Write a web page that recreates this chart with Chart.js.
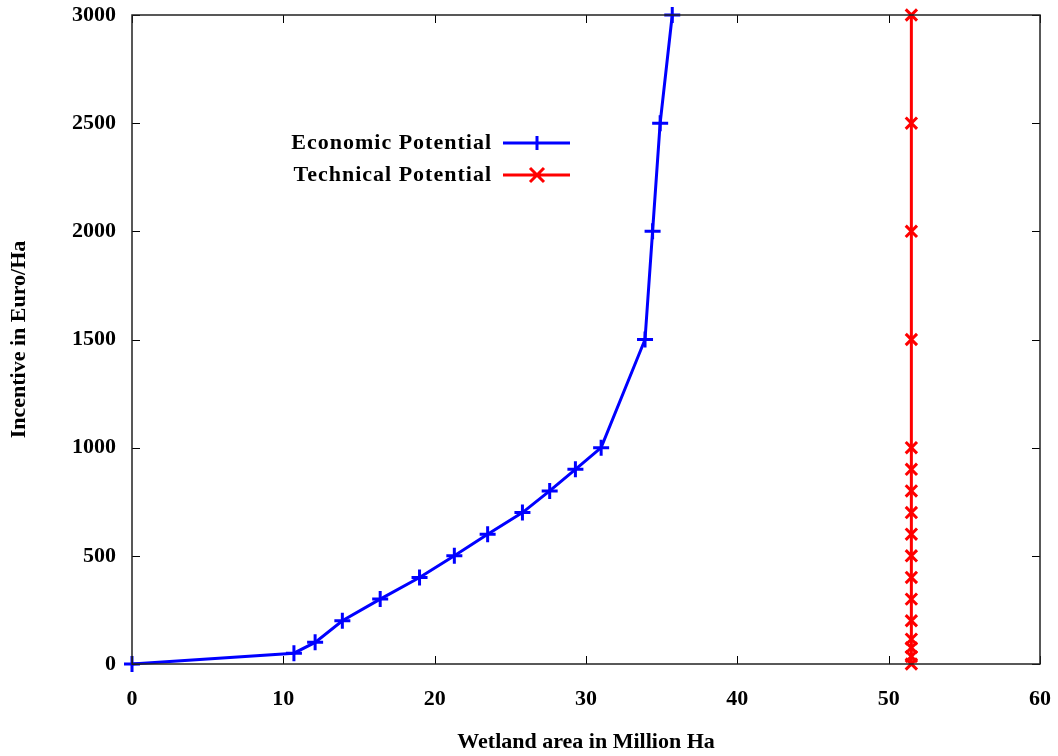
<!DOCTYPE html>
<html>
<head>
<meta charset="utf-8">
<script src="https://cdn.jsdelivr.net/npm/chart.js@4"></script>
<style>
  html, body { margin: 0; padding: 0; background: #fff; }
  #wrap { width: 1058px; height: 756px; }
</style>
</head>
<body>
<div id="wrap"><canvas id="myChart" width="1058" height="756"></canvas></div>
<script>
// values
const econArea = [0, 10.7, 12.1, 13.9, 16.4, 19.0, 21.3, 23.5, 25.8, 27.6, 29.3, 31.0, 33.9, 34.4, 34.9, 35.7];
const econIncentive = [0, 50, 100, 200, 300, 400, 500, 600, 700, 800, 900, 1000, 1500, 2000, 2500, 3000];
const techArea = 51.5;
const techIncentive = [0, 35, 75, 115, 200, 300, 400, 500, 600, 700, 800, 900, 1000, 1500, 2000, 2500, 3000];
const xTicks = [0, 10, 20, 30, 40, 50, 60];
const yTicks = [0, 500, 1000, 1500, 2000, 2500, 3000];
const seriesNames = ['Economic Potential', 'Technical Potential'];

const font = { family: '"Liberation Serif", "Times New Roman", serif', size: 22, weight: 'bold' };

// gnuplot-like frame, inward ticks and in-plot legend
const frame = {
    id: 'frame',
    afterDraw(chart) {
        const c = chart.ctx, a = chart.chartArea;
        const xs = chart.scales.x, ys = chart.scales.y;
        c.save();
        c.strokeStyle = '#000';
        c.lineWidth = 1;
        c.beginPath();
        xTicks.forEach(v => {
            const px = Math.round(xs.getPixelForValue(v)) + 0.5;
            c.moveTo(px, a.bottom); c.lineTo(px, a.bottom - 8);
            c.moveTo(px, a.top); c.lineTo(px, a.top + 8);
        });
        yTicks.forEach(v => {
            const py = Math.round(ys.getPixelForValue(v)) + 0.5;
            c.moveTo(a.left, py); c.lineTo(a.left + 8, py);
            c.moveTo(a.right, py); c.lineTo(a.right - 8, py);
        });
        c.stroke();
        c.lineWidth = 1.5;
        c.strokeStyle = '#222';
        c.strokeRect(a.left, a.top, a.right - a.left, a.bottom - a.top);

        // legend
        c.font = 'bold 22px "Liberation Serif", "Times New Roman", serif';
        c.letterSpacing = '1px';
        c.textAlign = 'right';
        c.textBaseline = 'middle';
        chart.data.datasets.forEach((ds, i) => {
            const y = 143 + i * 32;
            c.fillStyle = '#000';
            c.fillText(ds.label, 492, y);
            c.strokeStyle = ds.borderColor;
            c.lineWidth = 3;
            c.beginPath();
            c.moveTo(503, y); c.lineTo(570, y);
            const mx = 537, r = 7;
            if (i === 0) {
                c.moveTo(mx - r, y); c.lineTo(mx + r, y);
                c.moveTo(mx, y - r); c.lineTo(mx, y + r);
            } else {
                c.moveTo(mx - r, y - r); c.lineTo(mx + r, y + r);
                c.moveTo(mx - r, y + r); c.lineTo(mx + r, y - r);
            }
            c.stroke();
        });
        c.restore();
    }
};

const ctx = document.getElementById('myChart').getContext('2d');
const chart = new Chart(ctx, {
    type: 'line',
    data: {
        datasets: [
            {
                label: seriesNames[0],
                data: econArea.map((x, i) => ({ x: x, y: econIncentive[i] })),
                borderColor: '#0000ff',
                backgroundColor: '#0000ff',
                borderWidth: 3,
                pointStyle: 'cross',
                pointRadius: 8,
                pointBorderWidth: 3,
                tension: 0
            },
            {
                label: seriesNames[1],
                data: techIncentive.map(y => ({ x: techArea, y: y })),
                borderColor: '#ff0000',
                backgroundColor: '#ff0000',
                borderWidth: 3,
                pointStyle: 'crossRot',
                pointRadius: 8,
                pointBorderWidth: 3,
                tension: 0
            }
        ]
    },
    options: {
        responsive: false,
        animation: false,
        clip: false,
        layout: { padding: { top: 15, right: 18, left: 0, bottom: 0 } },
        plugins: { legend: { display: false }, tooltip: { enabled: false } },
        scales: {
            x: {
                type: 'linear',
                min: 0, max: 60,
                afterBuildTicks: s => { s.ticks = xTicks.map(v => ({ value: v })); },
                afterFit: s => { s.height = 92; s.paddingLeft = 0; s.paddingRight = 0; },
                grid: { display: false, drawTicks: false },
                border: { display: false },
                ticks: { color: '#000', font: font, padding: 22, maxRotation: 0, callback: v => String(v) },
                title: { display: true, text: 'Wetland area in Million Ha', color: '#000', font: font, padding: { top: 30, bottom: 0 } }
            },
            y: {
                type: 'linear',
                min: 0, max: 3000,
                afterBuildTicks: s => { s.ticks = yTicks.map(v => ({ value: v })); },
                afterFit: s => { s.width = 132; s.paddingTop = 0; s.paddingBottom = 0; },
                grid: { display: false, drawTicks: false },
                border: { display: false },
                ticks: { color: '#000', font: font, padding: 16, callback: v => String(v) },
                title: { display: true, text: 'Incentive in Euro/Ha', color: '#000', font: font, padding: { top: 6, bottom: 0 } }
            }
        }
    },
    plugins: [frame]
});
</script>
</body>
</html>
